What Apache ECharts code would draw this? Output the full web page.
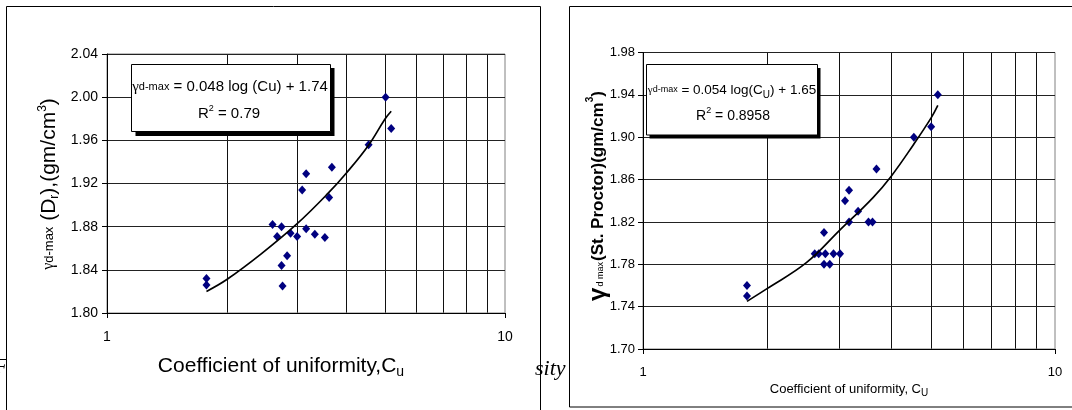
<!DOCTYPE html>
<html>
<head>
<meta charset="utf-8">
<script src="https://cdn.jsdelivr.net/npm/echarts@6/dist/echarts.min.js"></script>
<style>
html,body{margin:0;padding:0;background:#fff;}
#chart{width:1072px;height:410px;}
</style>
</head>
<body>
<div id="chart"></div>
<script>
// ---- data ----
// Left chart: gamma d-max (Dr) vs Cu
const cuLeft = [1.778, 1.778, 2.606, 2.676, 2.745, 2.745, 2.761, 2.835, 2.892, 3.004, 3.093, 3.165, 3.165, 3.328, 3.527, 3.615, 3.673, 4.543, 5.012, 5.177];
const gammaDr = [1.832, 1.826, 1.882, 1.871, 1.880, 1.844, 1.825, 1.853, 1.874, 1.871, 1.914, 1.929, 1.878, 1.873, 1.870, 1.907, 1.935, 1.956, 2.000, 1.971];
// Left trend line
const trendLeftCu = [1.778, 2.0, 2.445, 3.0, 3.595, 4.0, 4.532, 5.0, 5.177];
const trendLeftY = [1.820, 1.831, 1.855, 1.8825, 1.911, 1.930, 1.955, 1.980, 1.987];

// Right chart: gamma d max (St. Proctor) vs Cu
const cuRight = [1.788, 1.788, 2.611, 2.670, 2.750, 2.771, 2.750, 2.840, 2.900, 3.008, 3.093, 3.163, 3.163, 3.327, 3.526, 3.606, 3.687, 4.544, 5.005, 5.195];
const gammaProctor = [1.76, 1.75, 1.79, 1.79, 1.81, 1.79, 1.78, 1.78, 1.79, 1.79, 1.84, 1.85, 1.82, 1.83, 1.82, 1.82, 1.87, 1.90, 1.91, 1.94];
const trendRightCu = [1.788, 2.0, 2.492, 3.0, 3.617, 4.0, 4.525, 5.0, 5.195];
const trendRightY = [1.745, 1.757, 1.7815, 1.812, 1.843, 1.863, 1.8925, 1.918, 1.930];

// axis ranges / grid values
const xRange = [1, 10];
const leftYRange = [1.80, 2.04];
const rightYRange = [1.70, 1.98];
const yStep = 0.04;
const cuGridValues = [2, 3, 4, 5, 6, 7, 8, 9];

// text
const leftEquation = '= 0.048 log (Cu) + 1.74';
const leftR2 = ' = 0.79';
const rightEquation1 = ' = 0.054 log(C';
const rightEquation2 = ') + 1.65';
const rightR2 = ' = 0.8958';

// ---- build ----
const SANS = '"Liberation Sans", Arial, sans-serif';
const SERIF = '"Liberation Serif", "Times New Roman", serif';
const pairs = (xs, ys) => xs.map((x, i) => [x, ys[i]]);

const chart = echarts.init(document.getElementById('chart'), null, {renderer: 'canvas'});

function vGridLines() {
  return {
    silent: true,
    symbol: ['none', 'none'],
    label: {show: false},
    animation: false,
    lineStyle: {color: '#111', type: 'solid', width: 1, opacity: 1},
    emphasis: {disabled: true},
    data: cuGridValues.map(v => ({xAxis: v}))
  };
}

function xAxisCfg(gridIndex, fs) {
  return {
    gridIndex, type: 'log', logBase: 10, min: xRange[0], max: xRange[1], z: 10,
    axisLine: {show: true, lineStyle: {color: '#000', width: 1}},
    axisTick: {show: true, inside: false, length: 5, lineStyle: {color: '#000'}},
    axisLabel: {show: true, color: '#000', fontFamily: SANS, fontSize: fs, margin: 17},
    splitLine: {show: false},
    minorTick: {show: false}, minorSplitLine: {show: false}
  };
}
function yAxisCfg(gridIndex, range, fs, margin) {
  return {
    gridIndex, type: 'value', min: range[0], max: range[1], interval: yStep, z: 10,
    axisLine: {show: true, lineStyle: {color: '#000', width: 1}},
    axisTick: {show: true, inside: false, length: 5, lineStyle: {color: '#000'}},
    axisLabel: {show: true, color: '#000', fontFamily: SANS, fontSize: fs, margin: margin,
      showMinLabel: true, showMaxLabel: true, formatter: v => v.toFixed(2)},
    splitLine: {show: true, lineStyle: {color: '#222', width: 1}}
  };
}

const option = {
  animation: false,
  backgroundColor: '#fff',
  grid: [
    {left: 107, top: 54, width: 398, height: 259, show: true, z: 10,
     borderColor: '#808080', borderWidth: 1, backgroundColor: 'transparent'},
    {left: 643, top: 52.5, width: 412, height: 296.5, show: true, z: 10,
     borderColor: '#808080', borderWidth: 1, backgroundColor: 'transparent'}
  ],
  xAxis: [xAxisCfg(0, 14), xAxisCfg(1, 13)],
  yAxis: [yAxisCfg(0, leftYRange, 14, 9), yAxisCfg(1, rightYRange, 13, 8)],
  series: [
    {type: 'scatter', xAxisIndex: 0, yAxisIndex: 0, z: 12, symbol: 'diamond', symbolSize: [8, 9],
     itemStyle: {color: '#000080', opacity: 1}, data: pairs(cuLeft, gammaDr), markLine: vGridLines()},
    {type: 'line', xAxisIndex: 0, yAxisIndex: 0, z: 13, smooth: 0.4, showSymbol: false,
     lineStyle: {color: '#000', width: 1.7}, data: pairs(trendLeftCu, trendLeftY)},
    {type: 'scatter', xAxisIndex: 1, yAxisIndex: 1, z: 12, symbol: 'diamond', symbolSize: [8, 9],
     itemStyle: {color: '#000080', opacity: 1}, data: pairs(cuRight, gammaProctor), markLine: vGridLines()},
    {type: 'line', xAxisIndex: 1, yAxisIndex: 1, z: 13, smooth: 0.4, showSymbol: false,
     lineStyle: {color: '#000', width: 1.7}, data: pairs(trendRightCu, trendRightY)}
  ],
  graphic: {elements: [
    // fragments of the surrounding document text
    {type: 'text', x: -6, y: 367, z: 1, style: {text: 'F', font: 'italic 22px ' + SERIF, fill: '#000', align: 'left', verticalAlign: 'middle'}},
    // panel frames
    {type: 'rect', z: 2, shape: {x: 6.5, y: 6.5, width: 534, height: 420},
     style: {fill: '#fff', stroke: '#000', lineWidth: 1}},
    {type: 'text', x: 535, y: 369, z: 3, style: {text: 'sity', font: 'italic 22px ' + SERIF, fill: '#000', align: 'left', verticalAlign: 'middle'}},
    {type: 'rect', z: 4, shape: {x: 569.5, y: 6.5, width: 530, height: 400.5},
     style: {fill: '#fff', stroke: '#000', lineWidth: 1}},

    // left axis titles
    {type: 'text', x: 49, y: 184, rotation: Math.PI / 2, z: 20, style: {
      text: '{g|γ}{s|d-max}{b| (D}{sub|r}{b|),(gm/cm}{sup|3}{b|)}',
      align: 'center', verticalAlign: 'middle', fill: '#000',
      rich: {
        g: {fontFamily: SERIF, fontSize: 16, lineHeight: 24, verticalAlign: 'middle'},
        s: {fontFamily: SANS, fontSize: 13, lineHeight: 24, verticalAlign: 'middle'},
        b: {fontFamily: SANS, fontSize: 21, lineHeight: 24, verticalAlign: 'middle'},
        sub: {fontFamily: SANS, fontSize: 12, lineHeight: 24, verticalAlign: 'bottom'},
        sup: {fontFamily: SANS, fontSize: 12, lineHeight: 24, verticalAlign: 'top'}
      }}},
    {type: 'text', x: 281, y: 366, z: 20, style: {
      text: '{m|Coefficient of uniformity,C}{sub|u}',
      align: 'center', verticalAlign: 'middle', fill: '#000',
      rich: {
        m: {fontFamily: SANS, fontSize: 21, lineHeight: 26, verticalAlign: 'middle'},
        sub: {fontFamily: SANS, fontSize: 14, lineHeight: 26, verticalAlign: 'bottom'}
      }}},

    // right axis titles
    {type: 'text', x: 598, y: 196, rotation: Math.PI / 2, z: 20, style: {
      text: '{g|γ}{s|d max}{m|(St. Proctor)(gm/cm}{sup|3}{m|)}',
      align: 'center', verticalAlign: 'middle', fill: '#000',
      rich: {
        g: {fontFamily: SANS, fontWeight: 'bold', fontSize: 24, lineHeight: 26, verticalAlign: 'middle'},
        s: {fontFamily: SANS, fontSize: 9, lineHeight: 20, verticalAlign: 'middle', padding: [6, 1, 0, 1]},
        m: {fontFamily: SANS, fontWeight: 'bold', fontSize: 17, lineHeight: 26, verticalAlign: 'middle'},
        sup: {fontFamily: SANS, fontWeight: 'bold', fontSize: 10, lineHeight: 26, verticalAlign: 'top'}
      }}},
    {type: 'text', x: 849, y: 389, z: 20, style: {
      text: '{m|Coefficient of uniformity, C}{sub|U}',
      align: 'center', verticalAlign: 'middle', fill: '#000',
      rich: {
        m: {fontFamily: SANS, fontSize: 13, lineHeight: 18, verticalAlign: 'middle'},
        sub: {fontFamily: SANS, fontSize: 10, lineHeight: 18, verticalAlign: 'bottom'}
      }}},

    // left equation box
    {type: 'rect', z: 20, shape: {x: 135.5, y: 68, width: 199, height: 68}, style: {fill: '#000'}},
    {type: 'rect', z: 21, shape: {x: 131.5, y: 64.5, width: 199, height: 67}, style: {fill: '#fff', stroke: '#000', lineWidth: 1}},
    {type: 'text', x: 230, y: 87, z: 22, style: {
      text: '{g|γ}{s|d-max}{m| ' + leftEquation + '}',
      align: 'center', verticalAlign: 'middle', fill: '#000',
      rich: {
        g: {fontFamily: SERIF, fontSize: 15, lineHeight: 20, verticalAlign: 'middle'},
        s: {fontFamily: SANS, fontSize: 11, lineHeight: 20, verticalAlign: 'middle'},
        m: {fontFamily: SANS, fontSize: 15, lineHeight: 20, verticalAlign: 'middle'}
      }}},
    {type: 'text', x: 229, y: 114, z: 22, style: {
      text: '{m|R}{sup|2}{m|' + leftR2 + '}',
      align: 'center', verticalAlign: 'middle', fill: '#000',
      rich: {
        m: {fontFamily: SANS, fontSize: 15, lineHeight: 20, verticalAlign: 'middle'},
        sup: {fontFamily: SANS, fontSize: 9, lineHeight: 20, verticalAlign: 'top'}
      }}},

    // right equation box
    {type: 'rect', z: 20, shape: {x: 649.5, y: 68, width: 171, height: 70.5}, style: {fill: '#000'}},
    {type: 'rect', z: 21, shape: {x: 646.5, y: 64.5, width: 171, height: 70.5}, style: {fill: '#fff', stroke: '#000', lineWidth: 1}},
    {type: 'text', x: 732, y: 90, z: 22, style: {
      text: '{g|γ}{s|d-max}{m|' + rightEquation1 + '}{sub|U}{m|' + rightEquation2 + '}',
      align: 'center', verticalAlign: 'middle', fill: '#000',
      rich: {
        g: {fontFamily: SERIF, fontSize: 11, lineHeight: 20, verticalAlign: 'middle'},
        s: {fontFamily: SANS, fontSize: 9, lineHeight: 20, verticalAlign: 'middle'},
        m: {fontFamily: SANS, fontSize: 13.5, lineHeight: 20, verticalAlign: 'middle'},
        sub: {fontFamily: SANS, fontSize: 10, lineHeight: 20, verticalAlign: 'bottom'}
      }}},
    {type: 'text', x: 733, y: 116, z: 22, style: {
      text: '{m|R}{sup|2}{m|' + rightR2 + '}',
      align: 'center', verticalAlign: 'middle', fill: '#000',
      rich: {
        m: {fontFamily: SANS, fontSize: 14, lineHeight: 20, verticalAlign: 'middle'},
        sup: {fontFamily: SANS, fontSize: 9, lineHeight: 20, verticalAlign: 'top'}
      }}}
  ]}
};

chart.setOption(option);
</script>
</body>
</html>
